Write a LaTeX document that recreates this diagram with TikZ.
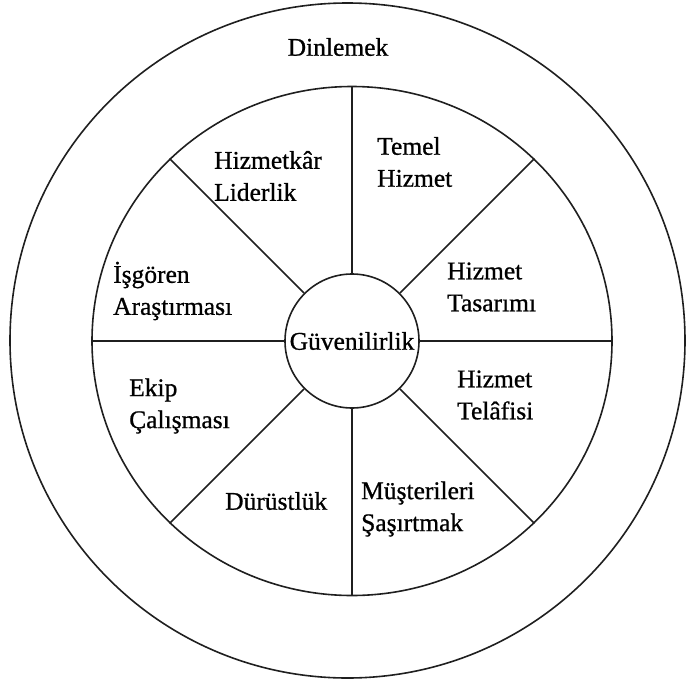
\documentclass[tikz,border=0pt]{standalone}
\usepackage{fontspec}
\setmainfont{Liberation Serif}[FakeBold=0.8,BoldFont={Liberation Serif}]
\usetikzlibrary{shapes.geometric}
\begin{document}
\begin{tikzpicture}[x=1pt,y=-1pt,
  ringline/.style={line width=1.6pt,draw=black!88},
  labelfont/.style={font=\fontsize{25.5}{32}\bfseries,text=black},
  label/.style={labelfont,inner sep=0pt,align=left,anchor=west}]
\useasboundingbox (0,0) rectangle (686,686);
% outer ring and the ring of eight sectors
\node[ringline,circle,minimum size=675pt,inner sep=0pt] (outer) at (347.5,340.5) {};
\node[ringline,ellipse,minimum width=520pt,minimum height=509pt,inner sep=0pt] (ring) at (352,341) {};
\node[ringline,circle,minimum size=134pt,inner sep=0pt,labelfont] (core) at (352,341) {Güvenilirlik};
% spokes between the core and the ring
\foreach \a in {0,45,...,315}
  \draw[ringline] (core.\a) -- (ring.\a);
% labels
\node[label,anchor=center] (dinle) at (338,47) {Dinlemek};
\node[label] (hl) at (214,176) {Hizmetkâr\\Liderlik};
\node[label] (th) at (377,162) {Temel\\Hizmet};
\node[label] (ht) at (447,287) {Hizmet\\Tasarımı};
\node[label] (ia) at (113,291) {İşgören\\Araştırması};
\node[label] (ec) at (129,406) {Ekip\\Çalışması};
\node[label] (htf) at (457,395) {Hizmet\\Telâfisi};
\node[label] (du) at (225,501) {Dürüstlük};
\node[label] (ms) at (361,509) {Müşterileri\\Şaşırtmak};
\end{tikzpicture}
\end{document}
